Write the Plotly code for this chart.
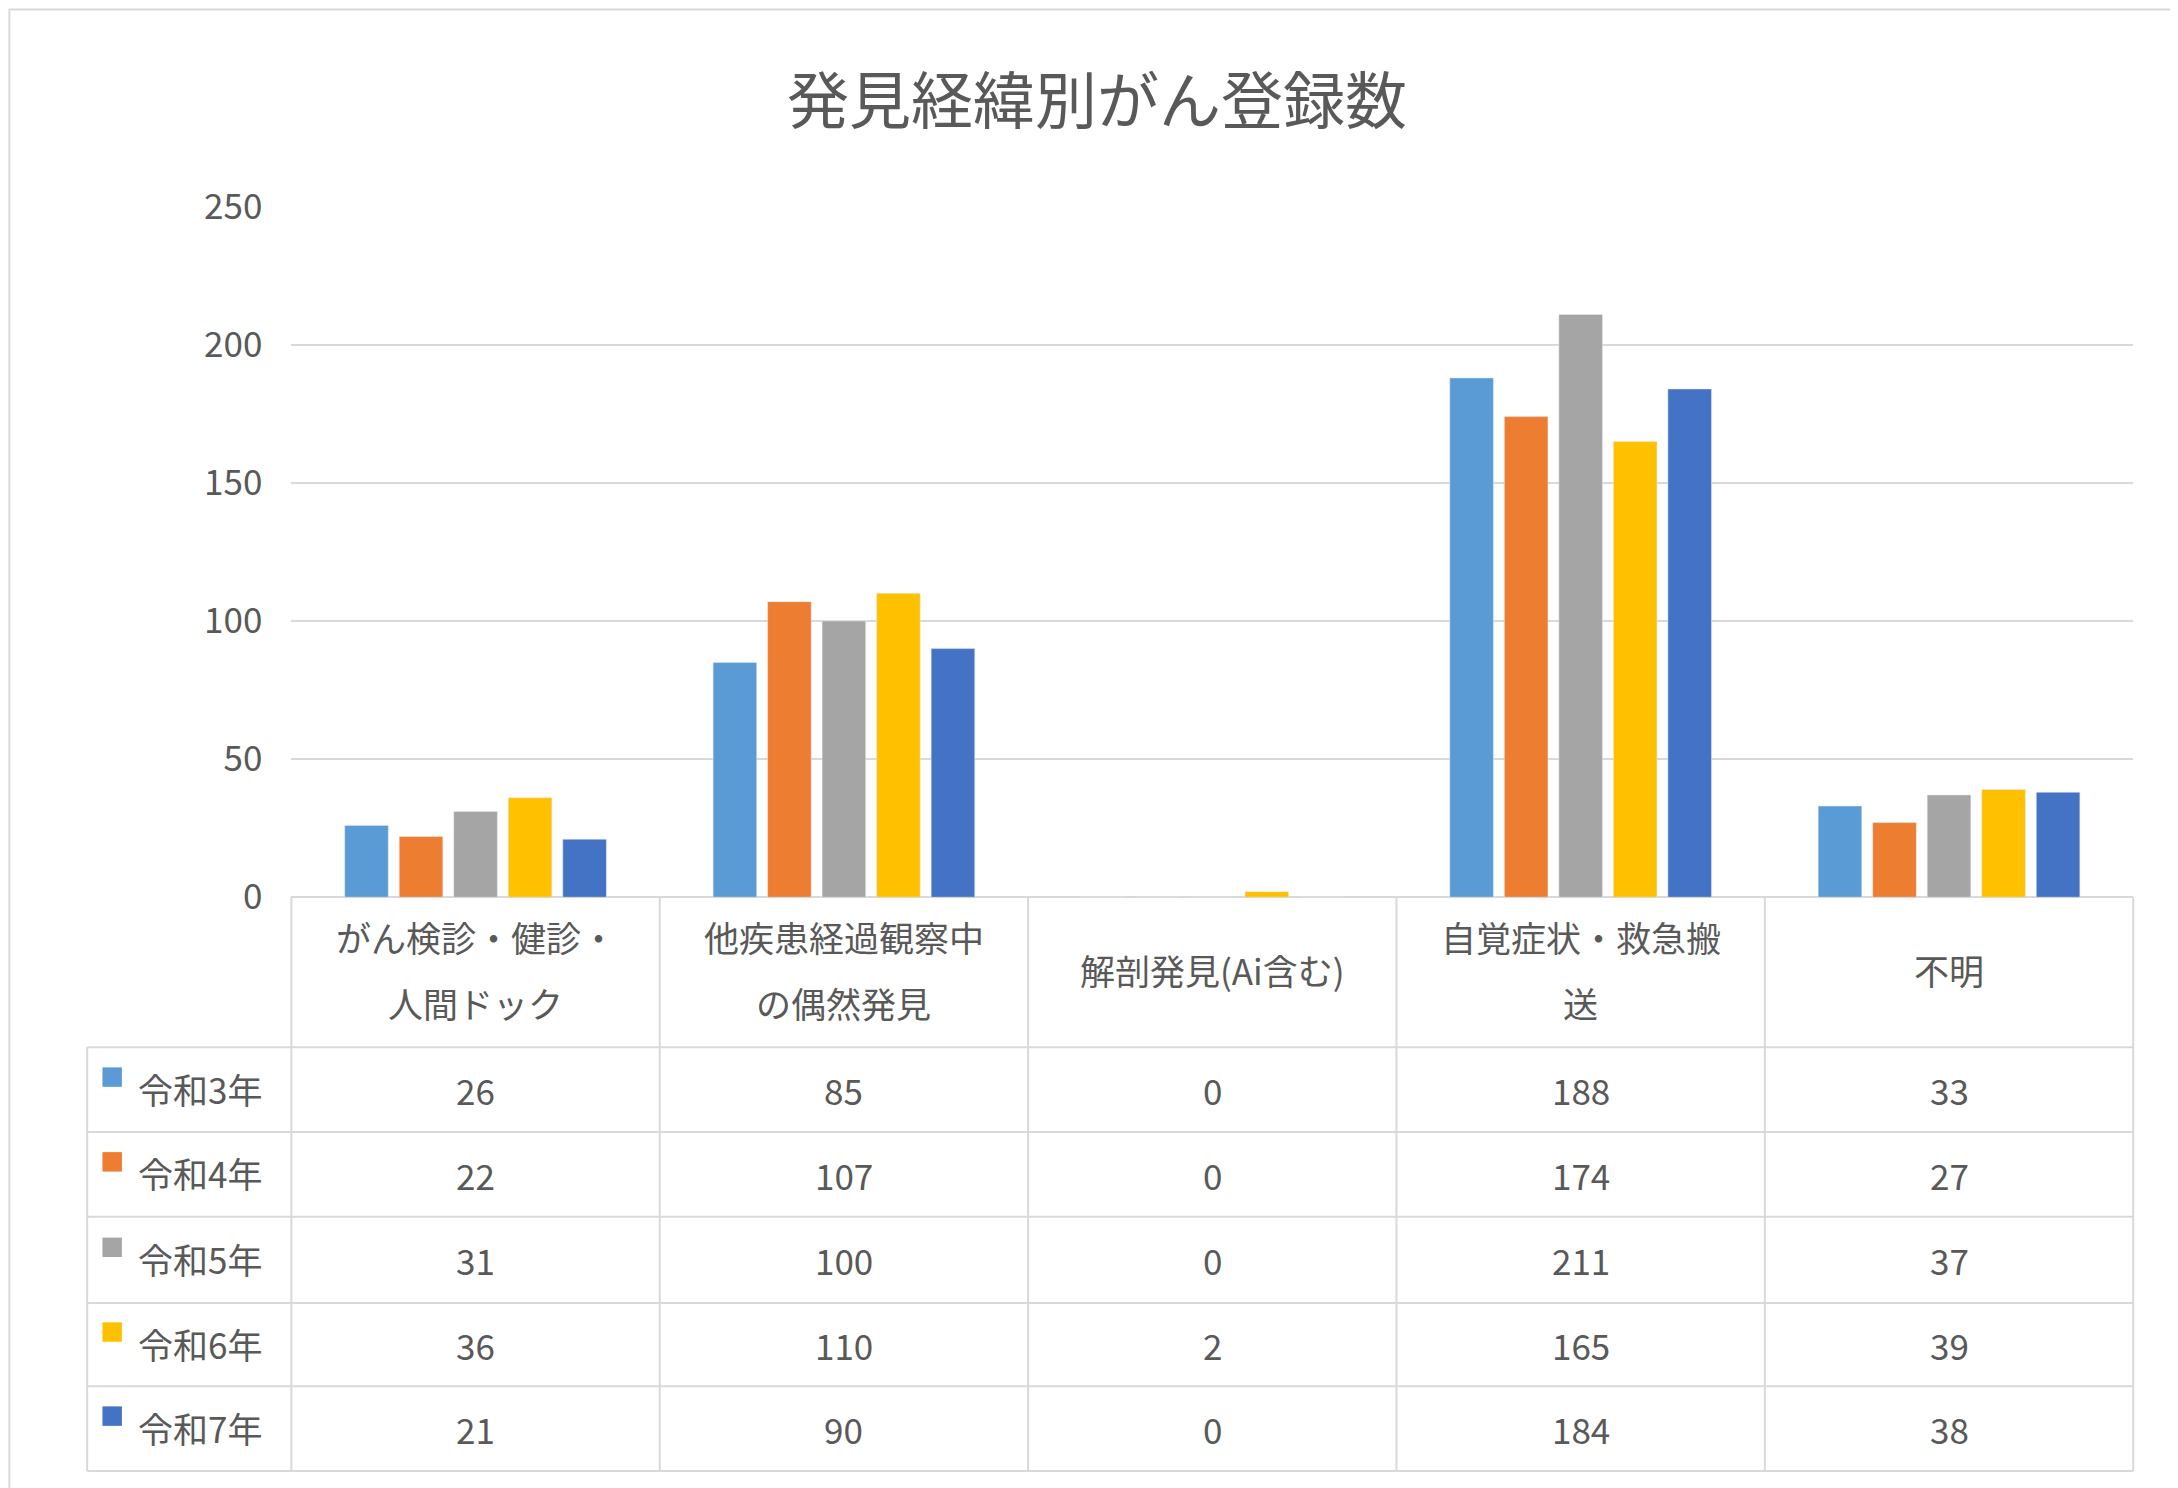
import plotly.graph_objects as go

categories = ["がん検診・健診・<br>人間ドック", "他疾患経過観察中<br>の偶然発見", "解剖発見(Ai含む)", "自覚症状・救急搬<br>送", "不明"]
series_names = ["令和3年", "令和4年", "令和5年", "令和6年", "令和7年"]
values = {
    "令和3年": [26, 85, 0, 188, 33],
    "令和4年": [22, 107, 0, 174, 27],
    "令和5年": [31, 100, 0, 211, 37],
    "令和6年": [36, 110, 2, 165, 39],
    "令和7年": [21, 90, 0, 184, 38],
}
colors = ["#5B9BD5", "#ED7D31", "#A5A5A5", "#FFC000", "#4472C4"]
yticks = [0, 50, 100, 150, 200, 250]

W0, H0 = 1568.0, 1071.0
def px(x): return x / W0
def py(y): return 1 - y / H0

FONT = "Noto Sans CJK JP"
GRAY = "#595959"
fig = go.Figure()
for n, c in zip(series_names, colors):
    fig.add_trace(go.Bar(x=list(range(len(categories))), y=values[n], name=n, marker_color=c, showlegend=False))

x0, x1 = 204, 1530
col_edges = [204 + i * (x1 - x0) / 5 for i in range(6)]
row_edges = [748, 809, 870, 932, 992, 1053]
line = dict(color="#D9D9D9", width=2)
shapes = [dict(type="rect", xref="paper", yref="paper", x0=px(1), x1=px(1567), y0=py(1069), y1=py(1), line=dict(color="#D9D9D9", width=2))]
for xe in col_edges:
    shapes.append(dict(type="line", xref="paper", yref="paper", x0=px(xe), x1=px(xe), y0=py(640), y1=py(1053), line=line))
shapes.append(dict(type="line", xref="paper", yref="paper", x0=px(57), x1=px(57), y0=py(748), y1=py(1053), line=line))
for ye in row_edges:
    shapes.append(dict(type="line", xref="paper", yref="paper", x0=px(57), x1=px(x1), y0=py(ye), y1=py(ye), line=line))

def ann(text, x, y, size=35, xanchor="center"):
    return dict(text=text, x=x, y=y, xref="paper", yref="paper", showarrow=False, xanchor=xanchor, yanchor="middle",
                font=dict(family=FONT, size=size, color=GRAY))

anns = [ann("発見経緯別がん登録数", 0.5, py(64), size=62)]
for i, cat in enumerate(categories):
    cx = (col_edges[i] + col_edges[i + 1]) / 2
    parts = cat.split("<br>")
    if len(parts) == 1:
        anns.append(ann(parts[0], px(cx), py(692)))
    else:
        anns.append(ann(parts[0], px(cx), py(668)))
        anns.append(ann(parts[1], px(cx), py(716)))
for r, (n, c) in enumerate(zip(series_names, colors)):
    cy = (row_edges[r] + row_edges[r + 1]) / 2
    shapes.append(dict(type="rect", xref="paper", yref="paper", x0=px(68), x1=px(82), y0=py(cy - 2), y1=py(cy - 16),
                       fillcolor=c, line=dict(width=0)))
    anns.append(ann(n, px(92), py(cy - 1), xanchor="left"))
    for i in range(5):
        cx = (col_edges[i] + col_edges[i + 1]) / 2
        anns.append(ann(str(values[n][i]), px(cx), py(cy)))

fig.update_layout(
    width=2178, height=1488, margin=dict(l=0, r=0, t=0, b=0, autoexpand=False),
    paper_bgcolor="white", plot_bgcolor="white",
    bargap=0.26, bargroupgap=0.2, barmode="group",
    xaxis=dict(domain=[px(x0), px(x1)], range=[-0.5, 4.5], showticklabels=False, showgrid=False,
               zeroline=False, showline=False),
    yaxis=dict(domain=[py(640), py(143)], range=[0, 250], tickvals=yticks, showgrid=True, gridcolor="#D9D9D9",
               gridwidth=2, zeroline=True, zerolinecolor="#D9D9D9", zerolinewidth=2,
               tickfont=dict(family=FONT, size=35, color=GRAY), ticks="", ticklabelstandoff=28),
    shapes=shapes, annotations=anns,
)
fig.write_html("out.html")
